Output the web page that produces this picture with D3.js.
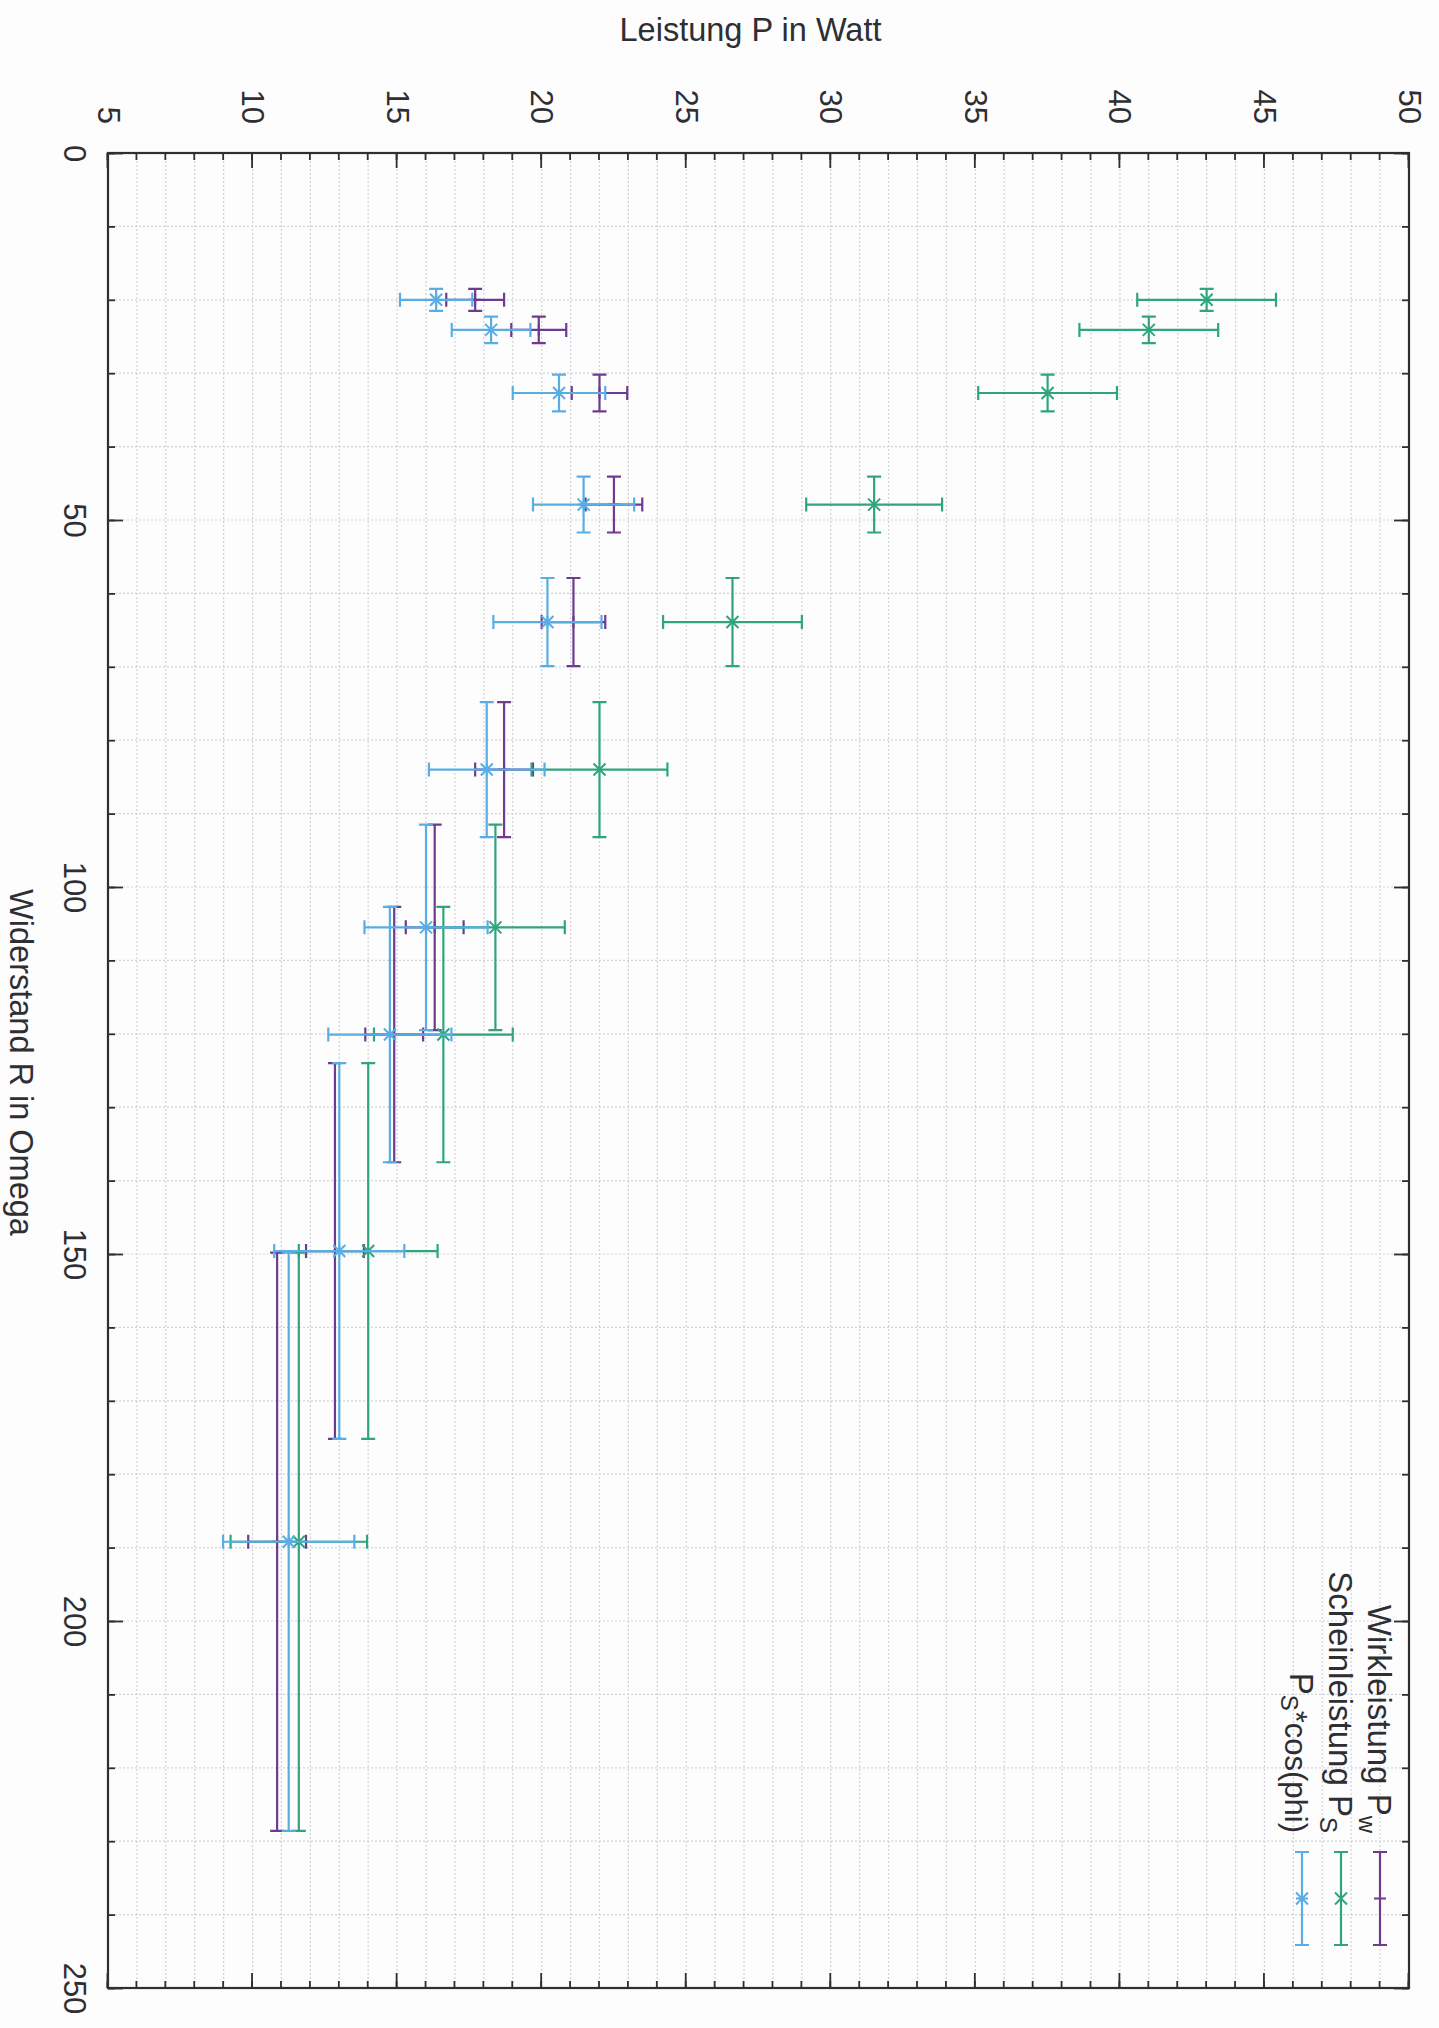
<!DOCTYPE html>
<html>
<head>
<meta charset="utf-8">
<script src="https://cdn.jsdelivr.net/npm/d3@7"></script>
<style>
    body { margin: 0; background: #fff; }
    svg text { font-family: "Liberation Sans", Arial, Helvetica, sans-serif; fill: #2e2e33; }
</style>
</head>
<body>
<div id="chart"></div>
<script>
// measured values, one entry per resistor setting
// Widerstand R in Ohm and its error (same for all three series)
const widerstand = [20.0, 24.1, 32.7, 47.9, 63.9, 84.0, 105.5, 120.1, 149.6, 189.2];
const widerstandFehler = [1.5, 1.8, 2.5, 3.8, 6.0, 9.2, 14.0, 17.4, 25.6, 39.4];

// Wirkleistung P_w
const wirkleistung = [17.7, 19.9, 22.0, 22.5, 21.1, 18.7, 16.3, 14.9, 12.85, 10.85];
const wirkFehler = [1.0, 0.95, 0.96, 0.98, 1.1, 1.0, 1.0, 1.0, 1.0, 1.0];

// Scheinleistung P_S
const scheinleistung = [43.0, 41.0, 37.5, 31.5, 26.6, 22.0, 18.4, 16.6, 14.0, 11.6];
const scheinFehler = [2.4, 2.4, 2.4, 2.35, 2.4, 2.35, 2.4, 2.4, 2.4, 2.36];

// P_S * cos(phi)
const psCosPhi = [16.35, 18.25, 20.6, 21.45, 20.2, 18.1, 16.0, 14.75, 13.0, 11.25];
const psCosFehler = [1.25, 1.36, 1.6, 1.75, 1.87, 2.0, 2.13, 2.13, 2.25, 2.27];

// axis ticks
const rTicks = [0, 50, 100, 150, 200, 250];
const rMinorTicks = [0, 10, 20, 30, 40, 50, 60, 70, 80, 90, 100, 110, 120, 130, 140, 150,
    160, 170, 180, 190, 200, 210, 220, 230, 240, 250];
const pTicks = [5, 10, 15, 20, 25, 30, 35, 40, 45, 50];
const pMinorTicks = d3.range(5, 51, 1);

const legendTitles = [
    {main: "Wirkleistung P", sub: "w", tail: ""},
    {main: "Scheinleistung P", sub: "S", tail: ""},
    {main: "P", sub: "S", tail: "*cos(phi)"}
];
const seriesColors = ["#6e3b8e", "#2fa47f", "#5aade3"];
const seriesMarkers = ["plus", "cross", "star"];


// the chart is the usual landscape gnuplot plot, turned by 90 degrees onto the page
const pageW = 1439, pageH = 2028;
const plotLeft = 108, plotTop = 153, plotRight = 1409, plotBottom = 1988;
const W = plotBottom - plotTop;   // R axis length
const H = plotRight - plotLeft;   // P axis length

const svg = d3.select("#chart").append("svg")
    .attr("width", pageW)
    .attr("height", pageH);

svg.append("rect").attr("width", pageW).attr("height", pageH).attr("fill", "#fdfdfe");

const g = svg.append("g")
    .attr("transform", "translate(" + plotRight + "," + plotTop + ") rotate(90)");

const x = d3.scaleLinear().domain([0, 250]).range([0, W]);
const y = d3.scaleLinear().domain([5, 50]).range([H, 0]);


// grid
const grid = g.append("g").attr("class", "grid")
    .attr("stroke", "#d2d2da")
    .attr("stroke-width", 1.2)
    .attr("stroke-dasharray", "2,2");

grid.selectAll(".gx").data(rMinorTicks).enter().append("line")
    .attr("x1", d => x(d)).attr("x2", d => x(d))
    .attr("y1", 0).attr("y2", H);

grid.selectAll(".gy").data(pMinorTicks).enter().append("line")
    .attr("x1", 0).attr("x2", W)
    .attr("y1", d => y(d)).attr("y2", d => y(d));


// axes, ticks point into the plot on all four sides
function styleAxis(sel, fontSize) {
    sel.select(".domain").remove();
    sel.attr("color", "#2e2e33")
        .attr("font-family", null)
        .attr("font-size", fontSize);
    sel.selectAll(".tick line").attr("stroke-width", 1.8);
    sel.selectAll(".tick text").attr("fill", "#2e2e33");
}

g.append("g").attr("transform", "translate(0," + H + ")")
    .call(d3.axisBottom(x).tickValues(rMinorTicks).tickSize(-7).tickFormat(""))
    .call(styleAxis, 31);
g.append("g").attr("transform", "translate(0," + H + ")")
    .call(d3.axisBottom(x).tickValues(rTicks).tickSize(-15).tickPadding(22))
    .call(styleAxis, 31);

g.append("g")
    .call(d3.axisTop(x).tickValues(rMinorTicks).tickSize(-7).tickFormat(""))
    .call(styleAxis, 31);
g.append("g")
    .call(d3.axisTop(x).tickValues(rTicks).tickSize(-15).tickFormat(""))
    .call(styleAxis, 31);

g.append("g")
    .call(d3.axisLeft(y).tickValues(pMinorTicks).tickSize(-7).tickFormat(""))
    .call(styleAxis, 31);
g.append("g")
    .call(d3.axisLeft(y).tickValues(pTicks).tickSize(-15).tickPadding(29))
    .call(styleAxis, 31);

g.append("g").attr("transform", "translate(" + W + ",0)")
    .call(d3.axisRight(y).tickValues(pMinorTicks).tickSize(-7).tickFormat(""))
    .call(styleAxis, 31);
g.append("g").attr("transform", "translate(" + W + ",0)")
    .call(d3.axisRight(y).tickValues(pTicks).tickSize(-15).tickFormat(""))
    .call(styleAxis, 31);

g.append("rect")
    .attr("width", W).attr("height", H)
    .attr("fill", "none")
    .attr("stroke", "#2e2e33")
    .attr("stroke-width", 2.2);


// axis titles
g.append("text")
    .attr("x", W / 2 - 8)
    .attr("y", H + 98)
    .attr("text-anchor", "middle")
    .attr("font-size", 32.5)
    .text("Widerstand R in Omega");

g.append("text")
    .attr("transform", "translate(-112," + (H / 2 + 8) + ") rotate(-90)")
    .attr("text-anchor", "middle")
    .attr("font-size", 32.5)
    .text("Leistung P in Watt");


// error bars
const cap = 7;

function markerPath(type, s) {
    const plus = "M" + (-s) + ",0H" + s + "M0," + (-s) + "V" + s;
    const cross = "M" + (-s) + "," + (-s) + "L" + s + "," + s + "M" + (-s) + "," + s + "L" + s + "," + (-s);
    if (type == "plus") return plus;
    if (type == "cross") return cross;
    return plus + cross;
}

function drawSeries(values, errors, idx) {
    const color = seriesColors[idx];
    const data = widerstand.map((r, i) => ({r: r, dr: widerstandFehler[i], p: values[i], dp: errors[i]}));

    const grp = g.append("g")
        .attr("class", "series-" + idx)
        .attr("stroke", color)
        .attr("stroke-width", 2.2)
        .attr("fill", "none");

    const pts = grp.selectAll(".pt").data(data).enter().append("g").attr("class", "pt");

    // R error (along the R axis)
    pts.append("path")
        .attr("d", d => {
            const x0 = x(d.r - d.dr), x1 = x(d.r + d.dr), yy = y(d.p);
            return "M" + x0 + "," + yy + "H" + x1 +
                "M" + x0 + "," + (yy - cap) + "V" + (yy + cap) +
                "M" + x1 + "," + (yy - cap) + "V" + (yy + cap);
        });

    // P error (along the P axis)
    pts.append("path")
        .attr("d", d => {
            const y0 = y(d.p - d.dp), y1 = y(d.p + d.dp), xx = x(d.r);
            return "M" + xx + "," + y0 + "V" + y1 +
                "M" + (xx - cap) + "," + y0 + "H" + (xx + cap) +
                "M" + (xx - cap) + "," + y1 + "H" + (xx + cap);
        });

    pts.append("path")
        .attr("transform", d => "translate(" + x(d.r) + "," + y(d.p) + ")")
        .attr("stroke-width", 2)
        .attr("d", markerPath(seriesMarkers[idx], 6));
}

drawSeries(wirkleistung, wirkFehler, 0);
drawSeries(scheinleistung, scheinFehler, 1);
drawSeries(psCosPhi, psCosFehler, 2);


// legend (top right of the landscape plot)
const legend = g.append("g").attr("class", "legend");
const legTextEnd = 1680, legSample0 = 1699, legSample1 = 1792, legRow0 = 29, legRowStep = 39;

legendTitles.forEach((t, i) => {
    const yy = legRow0 + i * legRowStep;
    const txt = legend.append("text")
        .attr("x", legTextEnd)
        .attr("y", yy)
        .attr("dy", "0.36em")
        .attr("text-anchor", "end")
        .attr("font-size", 33);
    txt.append("tspan").text(t.main);
    txt.append("tspan").attr("font-size", 24).attr("dy", 9).text(t.sub);
    if (t.tail) {
        txt.append("tspan").attr("font-size", 31).attr("dy", -4).text(t.tail);
    }

    const mid = (legSample0 + legSample1) / 2;
    legend.append("path")
        .attr("stroke", seriesColors[i])
        .attr("stroke-width", 2.2)
        .attr("fill", "none")
        .attr("d", "M" + legSample0 + "," + yy + "H" + legSample1 +
            "M" + legSample0 + "," + (yy - cap) + "V" + (yy + cap) +
            "M" + legSample1 + "," + (yy - cap) + "V" + (yy + cap));
    legend.append("path")
        .attr("stroke", seriesColors[i])
        .attr("stroke-width", 2)
        .attr("fill", "none")
        .attr("transform", "translate(" + mid + "," + yy + ")")
        .attr("d", markerPath(seriesMarkers[i], 6));
});
</script>
</body>
</html>
